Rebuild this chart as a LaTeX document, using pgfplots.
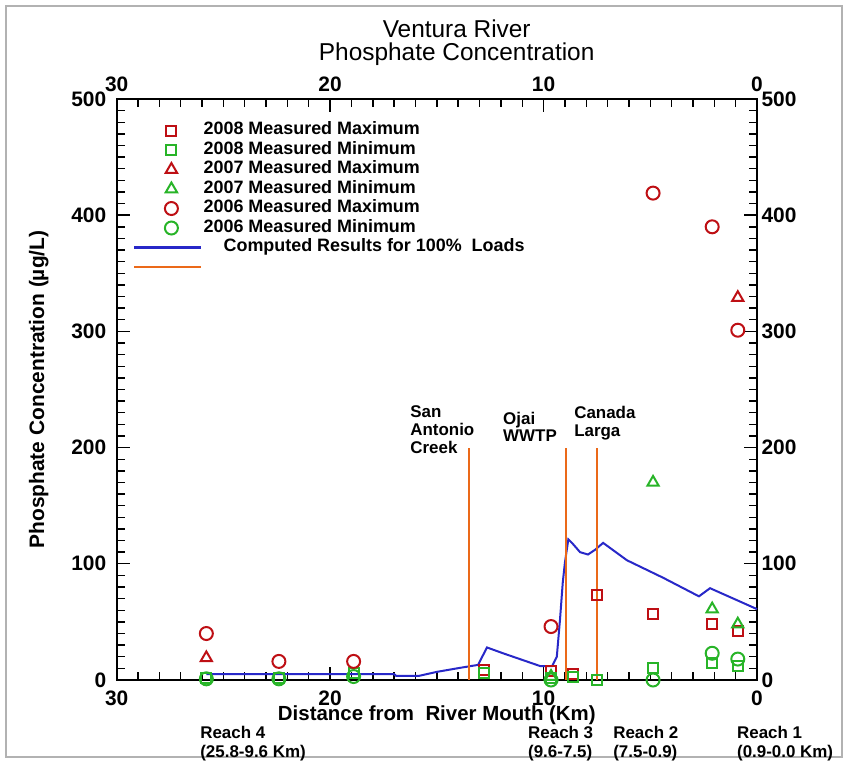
\documentclass[border=0pt]{standalone}
\usepackage{fontspec}
\setmainfont{Liberation Sans}
\usepackage{pgfplots}
\pgfplotsset{compat=1.18}
\definecolor{dred}{RGB}{190,15,20}
\definecolor{mgreen}{RGB}{40,180,40}
\definecolor{mblue}{RGB}{40,40,200}
\definecolor{morange}{RGB}{235,105,25}
\pgfplotsset{
  mk/.style={only marks, mark options={solid, line width=2bp},
    legend image code/.code={\draw[mark repeat=2,mark phase=2,##1] plot coordinates {(0bp,0bp)(37bp,0bp)(67bp,0bp)};}},
}
\begin{document}
\begin{tikzpicture}[x=1bp,y=1bp]
\useasboundingbox (0,0) rectangle (848,763);
\draw[gray!60, line width=1.3bp] (6,6) rectangle (842,757);
\begin{axis}[
  at={(116.7bp,83bp)}, anchor=south west, scale only axis,
  width=640.3bp, height=581bp,
  x dir=reverse, xmin=0, xmax=30, ymin=0, ymax=500,
  xtick={0,10,20,30}, ytick={0,100,200,300,400,500},
  minor x tick num=9, minor y tick num=9,
  tick align=inside, major tick length=13bp, minor tick length=8bp,
  tick style={line width=1.4bp, black},
  axis line style={line width=2bp},
  /pgf/number format/assume math mode=true,
  ticklabel style={font=\fontsize{21}{24}\selectfont\bfseries},
  xticklabel style={yshift=-7bp},
  yticklabel style={xshift=-7bp},
  xlabel={Distance from\ \ River Mouth (Km)},
  ylabel={Phosphate Concentration (\textmu g/L)},
  every axis x label/.style={at={(axis description cs:0.5,-0.0605)}, anchor=center, font=\fontsize{20.5}{22}\selectfont\bfseries},
  every axis y label/.style={at={(axis description cs:-0.1218,0.5)}, rotate=90, anchor=center, font=\fontsize{21}{24}\selectfont\bfseries},
  title={Ventura River\\Phosphate Concentration},
  title style={at={(axis description cs:0.531,1.0865)}, anchor=center, align=center, font=\fontsize{24.5}{22.5}\selectfont},
  clip=false, clip marker paths=false,
  legend style={at={(axis description cs:0.0255,0.962)}, anchor=north west, draw=none, fill=none,
    font=\fontsize{18}{19}\selectfont\bfseries, row sep=1bp, inner sep=0pt,
    nodes={inner sep=1bp, text height=12.5bp, text depth=4bp}},
  legend cell align=left,
]
\addplot[mk, mark=square, mark size=5bp, dred] coordinates {
 (12.8,9)(9.65,8)(8.6,5)(7.5,73)(4.87,57)(2.1,48)(0.9,42)};
\addlegendentry{2008 Measured Maximum}
\addplot[mk, mark=square, mark size=5bp, mgreen] coordinates {
 (25.8,2)(22.4,2)(18.9,6)(12.8,6)(9.65,2)(8.6,3)(7.5,0)(4.87,10)(2.1,15)(0.9,12)};
\addlegendentry{2008 Measured Minimum}
\addplot[mk, mark=triangle, mark size=6.5bp, dred] coordinates {
 (25.8,19)(0.9,329)};
\addlegendentry{2007 Measured Maximum}
\addplot[mk, mark=triangle, mark size=6.5bp, mgreen] coordinates {
 (9.65,3)(4.87,170)(2.1,61)(0.9,48)};
\addlegendentry{2007 Measured Minimum}
\addplot[mk, mark=o, mark size=6.5bp, dred] coordinates {
 (25.8,40)(22.4,16)(18.9,16)(9.65,46)(4.87,419)(2.1,390)(0.9,301)};
\addlegendentry{2006 Measured Maximum}
\addplot[mk, mark=o, mark size=6.5bp, mgreen] coordinates {
 (25.8,1)(22.4,1)(18.9,3)(9.65,0)(4.87,0)(2.1,23)(0.9,18)};
\addlegendentry{2006 Measured Minimum}
\addplot[no marks, mblue, line width=2bp,
  legend image code/.code={\draw[mblue, line width=2.2bp] (0bp,0bp) -- (67bp,0bp);}] coordinates {
 (25.8,5)(17.0,5)(16.9,3.5)(15.85,3.5)(15.0,7)(13.9,10.5)(13.07,13)(12.65,28)(11.9,23)
 (10.16,12)(9.6,12)(9.38,20)(9.23,52)(9.1,84)(9.0,101)(8.84,121)(8.67,118)(8.29,110)
 (7.92,108)(7.59,112)(7.21,118)(6.09,103)(4.4,88)(2.72,72)(2.2,79)(0,61)};
\addlegendentry{\hspace{20bp}Computed Results for 100\%\ \ Loads}
\addplot[no marks, morange, line width=2.4bp,
  legend image code/.code={\draw[morange, line width=2.4bp] (0bp,0bp) -- (67bp,0bp);}] coordinates {(13.5,0)(13.5,200)};
\addlegendentry{}
\addplot[no marks, morange, line width=2.4bp, forget plot] coordinates {(8.95,0)(8.95,200)};
\addplot[no marks, morange, line width=2.4bp, forget plot] coordinates {(7.5,0)(7.5,200)};
\node[anchor=north west, align=left, inner sep=0pt, font=\fontsize{17}{18}\selectfont\bfseries] at (axis cs:16.25,236) {San\\Antonio\\Creek};
\node[anchor=north west, align=left, inner sep=0pt, font=\fontsize{17}{18}\selectfont\bfseries] at (axis cs:11.9,231) {Ojai\\WWTP};
\node[anchor=north west, align=left, inner sep=0pt, font=\fontsize{17}{18}\selectfont\bfseries] at (axis cs:8.57,236) {Canada\\Larga};
\node[anchor=north west, align=left, inner sep=0pt, font=\fontsize{17}{19}\selectfont\bfseries] at (axis cs:26.09,-39.5) {Reach 4\\(25.8-9.6 Km)};
\node[anchor=north west, align=left, inner sep=0pt, font=\fontsize{17}{19}\selectfont\bfseries] at (axis cs:10.73,-39.5) {Reach 3\\(9.6-7.5)};
\node[anchor=north west, align=left, inner sep=0pt, font=\fontsize{17}{19}\selectfont\bfseries] at (axis cs:6.74,-39.5) {Reach 2\\(7.5-0.9)};
\node[anchor=north west, align=left, inner sep=0pt, font=\fontsize{17}{19}\selectfont\bfseries] at (axis cs:0.94,-39.5) {Reach 1\\(0.9-0.0 Km)};
\end{axis}
\begin{axis}[
  at={(116.7bp,83bp)}, anchor=south west, scale only axis,
  width=640.3bp, height=581bp,
  x dir=reverse, xmin=0, xmax=30, ymin=0, ymax=500,
  xtick={0,10,20,30}, ytick={0,100,200,300,400,500},
  xticklabel pos=upper, yticklabel pos=right,
  axis line style={draw=none}, major tick style={draw=none}, minor tick style={draw=none},
  /pgf/number format/assume math mode=true,
  ticklabel style={font=\fontsize{21}{24}\selectfont\bfseries},
  xticklabel style={yshift=4bp},
  yticklabel style={xshift=1bp},
]
\addplot[draw=none, forget plot] coordinates {(0,0)(30,500)};
\end{axis}
\end{tikzpicture}
\end{document}
